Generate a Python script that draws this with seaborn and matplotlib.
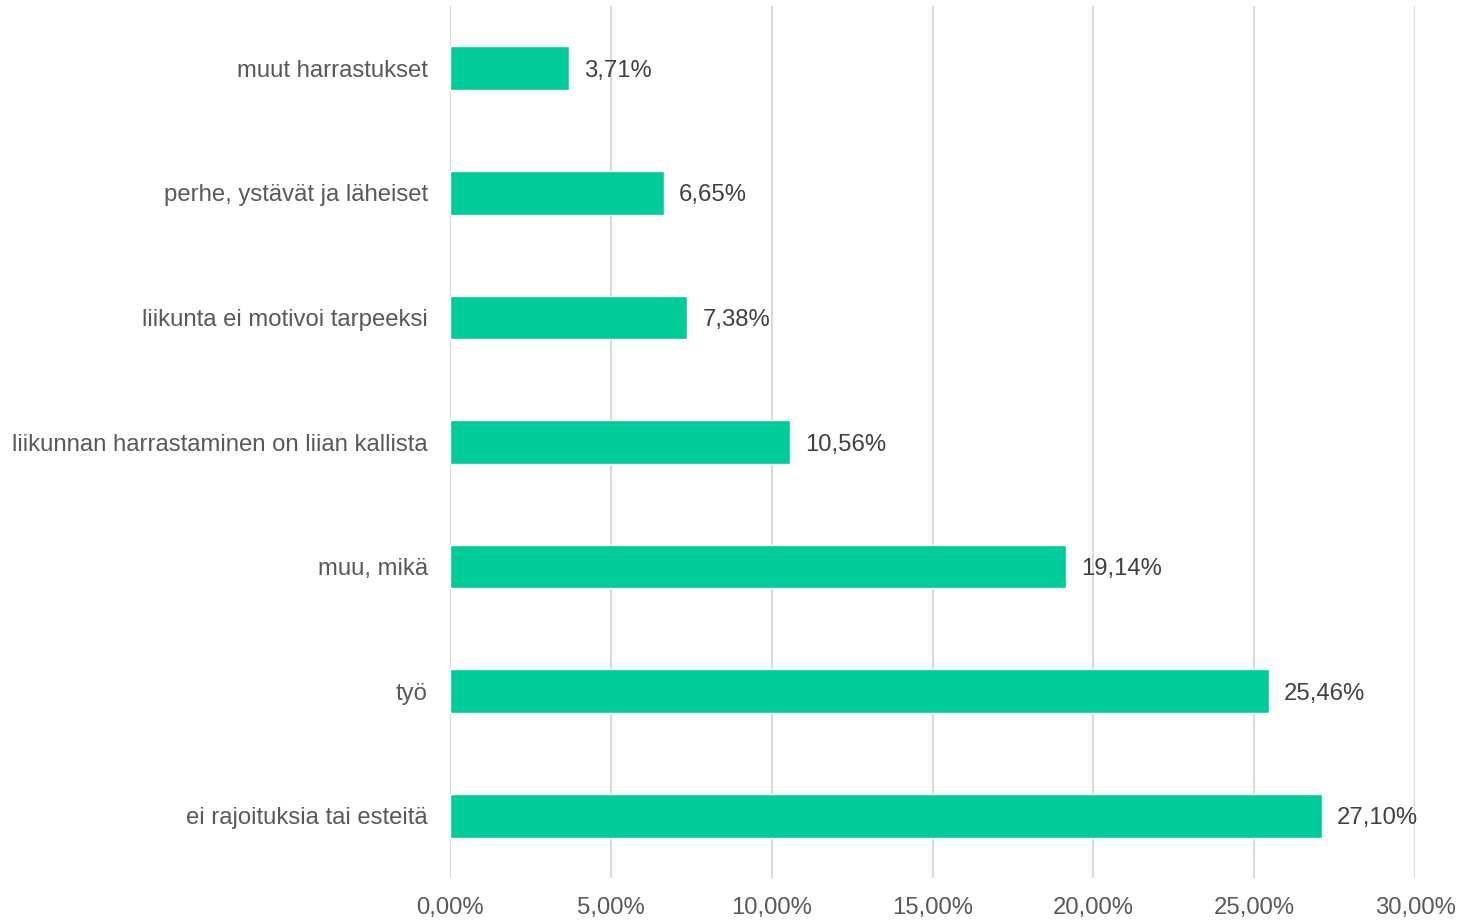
import matplotlib
matplotlib.use("Agg")
import matplotlib.pyplot as plt
import seaborn as sns
import pandas as pd
from matplotlib.ticker import FuncFormatter

categories = [
    "muut harrastukset",
    "perhe, ystävät ja läheiset",
    "liikunta ei motivoi tarpeeksi",
    "liikunnan harrastaminen on liian kallista",
    "muu, mikä",
    "työ",
    "ei rajoituksia tai esteitä",
]
values = [3.71, 6.65, 7.38, 10.56, 19.14, 25.46, 27.10]
x_ticks = [0, 5, 10, 15, 20, 25, 30]

df = pd.DataFrame({"category": categories, "value": values})

sns.set_theme(style="white")
plt.rcParams["font.family"] = ["Liberation Sans", "DejaVu Sans"]

text_color = "#595959"
bar_color = "#00CC99"
grid_color = "#D9D9D9"
fs = 17.2

fig = plt.figure(figsize=(14.59, 9.21), dpi=100)
ax = fig.add_axes([450 / 1459, 1 - 878 / 921, (1415 - 450) / 1459, (878 - 6) / 921])

sns.barplot(data=df, x="value", y="category", order=categories, color=bar_color,
            width=0.35, saturation=1, ax=ax, zorder=3)

ax.set_xlim(0, 30)
ax.set_ylim(6.5, -0.5)
ax.set_xticks(x_ticks)
ax.xaxis.set_major_formatter(FuncFormatter(lambda v, _: f"{v:.2f}%".replace(".", ",")))
ax.grid(axis="x", color=grid_color, linewidth=1.5, zorder=0)
ax.grid(axis="y", visible=False)
for s in ax.spines.values():
    s.set_visible(False)
ax.set_xlabel("")
ax.set_ylabel("")
ax.tick_params(axis="x", length=0, pad=14, labelsize=fs, labelcolor=text_color)
ax.tick_params(axis="y", length=0, pad=16, labelsize=fs, labelcolor=text_color)

for i, v in enumerate(values):
    ax.text(v + 0.47, i, f"{v:.2f}%".replace(".", ","), va="center_baseline", ha="left",
            fontsize=fs, color="#404040", zorder=4)

fig.savefig("out.png", dpi=100)
